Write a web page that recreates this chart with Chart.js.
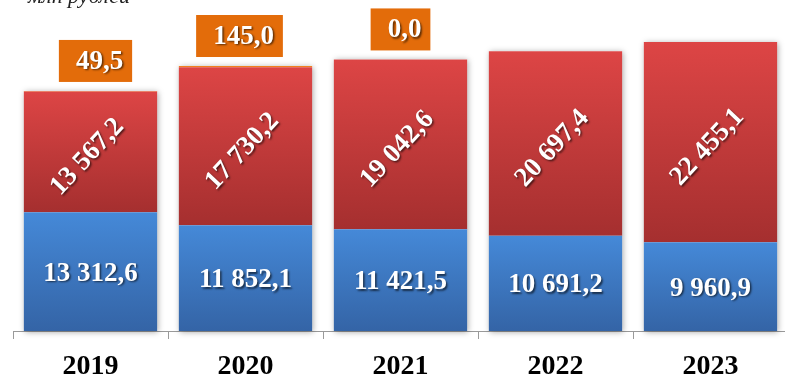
<!DOCTYPE html>
<html>
<head>
<meta charset="utf-8">
<script src="https://cdn.jsdelivr.net/npm/chart.js@4"></script>
<style>
    html, body { margin: 0; padding: 0; background: #fff; overflow: hidden; }
    #wrap { width: 788px; height: 379px; position: relative; }
</style>
</head>
<body>
<div id="wrap"><canvas id="chart"></canvas></div>
<script>
const years = ['2019', '2020', '2021', '2022', '2023'];
const blueValues = [13312.6, 11852.1, 11421.5, 10691.2, 9960.9];
const redValues = [13567.2, 17730.2, 19042.6, 20697.4, 22455.1];
const orangeValues = [49.5, 145.0, 0.0, 0, 0];
const orangeLabels = ['49,5', '145,0', '0,0', null, null];
const unitText = 'млн рублей';

const serif = '"Liberation Serif", "Times New Roman", serif';

function fmt(v) {
    const parts = v.toFixed(1).split('.');
    const int = parts[0].replace(/\B(?=(\d{3})+(?!\d))/g, ' ');
    return int + ',' + parts[1];
}

// vertical gradient over one bar segment
function segGradient(colTop, colBottom, below) {
    return function (c) {
        const chart = c.chart;
        const y = chart.scales.y;
        if (!y || c.dataIndex === undefined) return colTop;
        const base = below.reduce((s, arr) => s + arr[c.dataIndex], 0);
        const v = c.dataset.data[c.dataIndex];
        const top = y.getPixelForValue(base + v);
        const bot = y.getPixelForValue(base);
        if (!isFinite(top) || !isFinite(bot) || top === bot) return colTop;
        const g = chart.ctx.createLinearGradient(0, top, 0, bot);
        g.addColorStop(0, colTop);
        g.addColorStop(1, colBottom);
        return g;
    };
}

// soft shadow behind the whole stack
const shadowPlugin = {
    id: 'stackShadow',
    beforeDatasetsDraw(chart) {
        const ctx = chart.ctx;
        const y = chart.scales.y;
        const meta = chart.getDatasetMeta(0);
        ctx.save();
        ctx.shadowColor = 'rgba(0,0,0,0.35)';
        ctx.shadowBlur = 6;
        ctx.shadowOffsetX = 1;
        ctx.shadowOffsetY = 1;
        ctx.fillStyle = '#fff';
        meta.data.forEach((bar, i) => {
            const total = blueValues[i] + redValues[i] + orangeValues[i];
            const top = y.getPixelForValue(total);
            const bot = y.getPixelForValue(0);
            ctx.fillRect(bar.x - bar.width / 2, top, bar.width, bot - top);
        });
        ctx.restore();
    }
};

// small horizontal nudges of the orange boxes, as in the original
const boxShift = [5, -6, 0, 0, 0];

const labelPlugin = {
    id: 'valueLabels',
    afterDatasetsDraw(chart) {
        const ctx = chart.ctx;
        const blueMeta = chart.getDatasetMeta(0);
        const redMeta = chart.getDatasetMeta(1);
        const orMeta = chart.getDatasetMeta(2);
        ctx.save();
        ctx.font = 'bold 27px ' + serif;
        ctx.textAlign = 'center';
        ctx.textBaseline = 'middle';

        function shadowOn() {
            ctx.shadowColor = 'rgba(0,0,0,0.6)';
            ctx.shadowBlur = 2;
            ctx.shadowOffsetX = 1.5;
            ctx.shadowOffsetY = 1.5;
        }
        function shadowOff() {
            ctx.shadowColor = 'rgba(0,0,0,0)';
            ctx.shadowBlur = 0;
            ctx.shadowOffsetX = 0;
            ctx.shadowOffsetY = 0;
        }

        // blue labels
        blueMeta.data.forEach((bar, i) => {
            ctx.fillStyle = '#fff';
            shadowOn();
            ctx.fillText(fmt(blueValues[i]), bar.x, (bar.y + bar.base) / 2 + 2);
        });

        // red labels, rotated
        redMeta.data.forEach((bar, i) => {
            ctx.save();
            ctx.translate(bar.x - 3, (bar.y + bar.base) / 2 + 5);
            ctx.rotate(-47 * Math.PI / 180);
            ctx.fillStyle = '#fff';
            shadowOn();
            ctx.fillText(fmt(redValues[i]), 0, 0);
            ctx.restore();
        });

        // orange boxes above bars
        orMeta.data.forEach((bar, i) => {
            const txt = orangeLabels[i];
            if (!txt) return;
            const w = ctx.measureText(txt).width + 26;
            const h = 42;
            const bottom = bar.y - 9;
            const cx = bar.x + boxShift[i];
            shadowOff();
            ctx.fillStyle = '#E36C0A';
            ctx.fillRect(cx - w / 2, bottom - h, w, h);
            ctx.fillStyle = '#fff';
            shadowOn();
            ctx.fillText(txt, cx + 4, bottom - h / 2 + 1);
        });

        // unit caption, clipped at the top edge
        shadowOff();
        ctx.font = 'italic 22px ' + serif;
        ctx.textAlign = 'right';
        ctx.textBaseline = 'alphabetic';
        ctx.fillStyle = '#222';
        ctx.fillText(unitText, 130, 3);
        ctx.restore();
    }
};

const chart = new Chart(document.getElementById('chart').getContext('2d'), {
    type: 'bar',
    data: {
        labels: years,
        datasets: [
            {
                label: 'blue',
                data: blueValues,
                backgroundColor: segGradient('#4589D8', '#3464A6', [])
            },
            {
                label: 'red',
                data: redValues,
                backgroundColor: segGradient('#DD4545', '#A52F2F', [blueValues])
            },
            {
                label: 'orange',
                data: orangeValues,
                backgroundColor: '#F08020'
            }
        ]
    },
    options: {
        responsive: true,
        maintainAspectRatio: false,
        animation: false,
        barPercentage: 0.86,
        categoryPercentage: 1,
        layout: {
            padding: { left: 13, right: 0, top: 19, bottom: 0 }
        },
        plugins: {
            legend: { display: false },
            tooltip: { enabled: false }
        },
        scales: {
            x: {
                stacked: true,
                afterFit: (scale) => { scale.height = 48; },
                grid: {
                    offset: true,
                    drawOnChartArea: false,
                    tickLength: 8,
                    color: '#9a9a9a',
                    lineWidth: 1
                },
                border: { color: '#9a9a9a', width: 1 },
                ticks: {
                    color: '#000',
                    padding: 14,
                    font: { family: serif, size: 28, weight: 'bold', lineHeight: 1 }
                }
            },
            y: {
                stacked: true,
                display: false,
                min: 0,
                max: 35000
            }
        }
    },
    plugins: [shadowPlugin, labelPlugin]
});
</script>
</body>
</html>
